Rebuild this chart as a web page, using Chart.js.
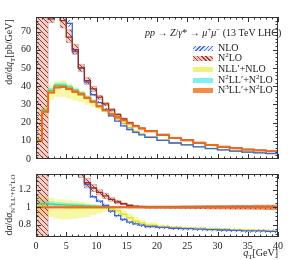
<!DOCTYPE html>
<html>
<head>
<meta charset="utf-8">
<script src="https://cdn.jsdelivr.net/npm/chart.js@4.4.1/dist/chart.umd.min.js"></script>
<style>
  body { margin: 0; background: #fff; }
  #wrap { position: relative; width: 288px; height: 260px; font-family: "Liberation Serif", serif; color: #222; overflow: hidden; }
  canvas { position: absolute; left: 0; }
  .t { position: absolute; white-space: nowrap; font-size: 10px; line-height: 1; }
  .t sub, .t sup { font-size: 70%; line-height: 0; }
  .rot { transform: translate(-50%, -50%) rotate(-90deg); }
  .sw { position: absolute; left: 193px; width: 20px; height: 5px; }
  .lab { position: absolute; left: 218px; font-size: 10px; line-height: 1; white-space: nowrap; }
  .lab sup { font-size: 70%; line-height: 0; }
</style>
</head>
<body>
<div id="wrap">
  <canvas id="topChart" width="288" height="170" style="top:0"></canvas>
  <canvas id="ratioChart" width="288" height="97" style="top:163px"></canvas>

  <div class="t" style="left:145px;top:28px;font-size:10px"><i>pp</i> → <i>Z</i>/<i>γ</i>* → <i>μ</i><sup>+</sup><i>μ</i><sup>−</sup> (13 TeV LHC)</div>

  <div class="sw" style="top:46px;background:repeating-linear-gradient(-45deg,#4a6ee0 0 1px,#dfe6fb 1px 3px)"></div>
  <div class="lab" style="top:43px">NLO</div>
  <div class="sw" style="top:56px;background:repeating-linear-gradient(45deg,#a33a2c 0 1px,#ecc3bd 1px 3px)"></div>
  <div class="lab" style="top:53px">N<sup>2</sup>LO</div>
  <div class="sw" style="top:67px;background:#f2f27a"></div>
  <div class="lab" style="top:64px">NLL′+NLO</div>
  <div class="sw" style="top:78px;background:#7df0f0"></div>
  <div class="lab" style="top:75px">N<sup>2</sup>LL′+N<sup>2</sup>LO</div>
  <div class="sw" style="top:88px;background:#f58a4a"></div>
  <div class="lab" style="top:85px">N<sup>3</sup>LL′+N<sup>2</sup>LO</div>

  <div class="t rot" style="left:9px;top:52px">d<i>σ</i>/d<i>q</i><sub>T</sub>[pb/GeV]</div>
  <div class="t rot" style="left:9px;top:205px">d<i>σ</i>/d<i>σ</i><sub>N<sup>3</sup>LL′+N<sup>2</sup>LO</sub></div>
  <div class="t" style="right:10px;top:248px"><i>q</i><sub>T</sub>[GeV]</div>
</div>

<script>
// bin edges in qT (GeV)
const edges = [0, 1, 2, 3, 4, 5, 6, 7, 8, 9, 10, 11, 12, 13, 14, 15, 16, 17, 18, 20, 22, 24, 26, 28, 30, 32, 34, 36, 38, 40];

// upper panel: dsigma/dqT per bin
const n3ll = [10, 26, 36.5, 39.3, 39.5, 38.5, 37, 35.5, 33.5, 31.5, 29, 26.8, 24.8, 23, 21.2, 19.5, 18, 16.7, 15.3, 13.3, 11.6, 10.3, 8.9, 7.7, 6.7, 5.9, 5.2, 4.7, 4.2];
const n3llLo = [9.9, 25.7, 36.1, 38.9, 39.1, 38.1, 36.6, 35.1, 33.1, 31.1, 28.6, 26.5, 24.5, 22.7, 20.9, 19.2, 17.7, 16.4, 15.0, 13.0, 11.3, 10.0, 8.65, 7.47, 6.49, 5.7, 5.02, 4.53, 4.05];
const n3llHi = [10.1, 26.3, 36.9, 39.7, 39.9, 38.9, 37.4, 35.9, 33.9, 31.9, 29.4, 27.1, 25.1, 23.3, 21.5, 19.8, 18.3, 17.0, 15.6, 13.6, 11.9, 10.6, 9.15, 7.93, 6.91, 6.1, 5.38, 4.87, 4.35];

const n2ll = [10.4, 27, 37.7, 40.5, 40.6, 39.5, 37.8, 36.2, 34, 31.9, 29.3, 27, 24.9, 23.1, 21.3, 19.6, 18.1, 16.8, 15.4, 13.4, 11.7, 10.4, 9.0, 7.8, 6.8, 6.0, 5.3, 4.8, 4.3];
const n2llLo = [10.0, 26.1, 36.6, 39.5, 39.7, 38.7, 37.2, 35.7, 33.6, 31.5, 29.0, 26.8, 24.7, 22.9, 21.1, 19.4, 17.9, 16.6, 15.2, 13.2, 11.5, 10.2, 8.85, 7.65, 6.65, 5.85, 5.15, 4.65, 4.15];
const n2llHi = [10.8, 27.8, 39.0, 41.8, 41.9, 40.6, 38.7, 36.9, 34.7, 32.4, 29.7, 27.4, 25.2, 23.4, 21.6, 19.8, 18.3, 17.0, 15.6, 13.6, 11.9, 10.6, 9.15, 7.95, 6.95, 6.1, 5.4, 4.9, 4.4];

const nll = [10.2, 26.3, 36.5, 39.3, 39.5, 38.1, 36.6, 35.1, 33.2, 31.2, 28.7, 26.5, 24.3, 22.1, 19.5, 17.2, 15.1, 13.7, 12.2, 10.4, 8.9, 7.9, 6.8, 5.8, 5.0, 4.4, 3.85, 3.45, 3.05];
const nllLo = [9.0, 23.4, 32.5, 34.2, 34.0, 33.1, 32.2, 31.2, 29.8, 28.7, 27.0, 25.5, 23.6, 21.4, 18.9, 16.4, 14.6, 13.2, 11.9, 10.2, 8.8, 7.8, 6.7, 5.7, 4.95, 4.34, 3.8, 3.41, 3.02];
const nllHi = [11.5, 29.1, 40.5, 42.8, 43.1, 41.6, 39.6, 37.6, 35.2, 32.8, 29.9, 27.6, 25.3, 22.8, 20.4, 18.1, 16.0, 14.4, 12.7, 10.6, 9.1, 8.0, 6.9, 5.9, 5.1, 4.46, 3.9, 3.5, 3.1];

const nlo = [150, 150, 150, 150, 150, 74.5, 59, 50, 42.2, 35.3, 31.0, 27.3, 23.7, 20.8, 18.2, 16.2, 14.6, 13.3, 11.9, 10.2, 8.8, 7.8, 6.7, 5.7, 5.0, 4.3, 3.8, 3.4, 3.0];
const nloLo = [140, 140, 140, 140, 140, 72.6, 57.5, 48.8, 41.1, 34.4, 30.2, 26.6, 23.1, 20.3, 17.7, 15.8, 14.2, 13.0, 11.6, 9.95, 8.6, 7.6, 6.53, 5.56, 4.88, 4.19, 3.7, 3.32, 2.93];
const nloHi = [160, 160, 160, 160, 160, 76.4, 60.5, 51.2, 43.3, 36.2, 31.8, 28.0, 24.3, 21.3, 18.7, 16.6, 15.0, 13.6, 12.2, 10.45, 9.0, 8.0, 6.87, 5.84, 5.12, 4.41, 3.9, 3.48, 3.07];

const n2lo = [300, 300, 77, 90, 76, 67, 60, 50, 43, 38.5, 34, 30.3, 27, 24.4, 22, 19.9, 18.2, 16.8, 15.3, 13.3, 11.6, 10.3, 8.9, 7.7, 6.7, 5.9, 5.2, 4.7, 4.2];
const n2loLo = [-50, -50, 75, 85, 72, 64, 57.5, 48, 41, 37, 32.8, 29.3, 26.2, 23.7, 21.4, 19.4, 17.8, 16.4, 14.95, 12.95, 11.3, 10.0, 8.65, 7.45, 6.5, 5.7, 5.02, 4.53, 4.05];
const n2loHi = [500, 500, 80, 95, 80, 71, 63, 52, 44.6, 39.8, 35, 31.1, 27.7, 25.0, 22.5, 20.3, 18.6, 17.2, 15.7, 13.65, 11.9, 10.6, 9.2, 7.95, 6.92, 6.1, 5.4, 4.88, 4.37];

// lower panel: ratio to N3LL'+N2LO
const rN3ll = [1, 1, 1, 1, 1, 1, 1, 1, 1, 1, 1, 1, 1, 1, 1, 1, 1, 1, 1, 1, 1, 1, 1, 1, 1, 1, 1, 1, 1];
const rN3llLo = [0.99, 0.99, 0.99, 0.99, 0.99, 0.99, 0.99, 0.99, 0.99, 0.99, 0.99, 0.99, 0.99, 0.99, 0.988, 0.987, 0.986, 0.985, 0.984, 0.983, 0.982, 0.981, 0.979, 0.978, 0.977, 0.975, 0.974, 0.972, 0.97];
const rN3llHi = [1.01, 1.01, 1.01, 1.01, 1.01, 1.01, 1.01, 1.01, 1.01, 1.01, 1.01, 1.01, 1.01, 1.01, 1.012, 1.013, 1.014, 1.015, 1.016, 1.017, 1.018, 1.019, 1.021, 1.022, 1.023, 1.025, 1.026, 1.028, 1.03];

const rN2ll = [1.04, 1.04, 1.035, 1.03, 1.028, 1.025, 1.022, 1.02, 1.015, 1.012, 1.01, 1.007, 1.005, 1.004, 1.003, 1.003, 1.003, 1.003, 1.003, 1.003, 1.003, 1.003, 1.003, 1.003, 1.003, 1.003, 1.003, 1.003, 1.003];
const rN2llLo = [1.0, 1.0, 1.0, 1.005, 1.005, 1.005, 1.005, 1.005, 1.003, 1.0, 1.0, 0.998, 0.996, 0.995, 0.994, 0.994, 0.994, 0.994, 0.994, 0.994, 0.994, 0.994, 0.994, 0.994, 0.994, 0.994, 0.994, 0.994, 0.994];
const rN2llHi = [1.08, 1.075, 1.07, 1.06, 1.055, 1.05, 1.045, 1.04, 1.035, 1.03, 1.025, 1.02, 1.017, 1.015, 1.013, 1.013, 1.013, 1.013, 1.013, 1.013, 1.013, 1.013, 1.013, 1.013, 1.013, 1.013, 1.013, 1.013, 1.013];

const rNll = [1.02, 1.01, 1.0, 1.0, 1.0, 0.99, 0.99, 0.99, 0.99, 0.99, 0.99, 0.99, 0.98, 0.96, 0.92, 0.88, 0.84, 0.82, 0.795, 0.78, 0.77, 0.765, 0.76, 0.755, 0.75, 0.745, 0.74, 0.735, 0.73];
const rNllLo = [0.9, 0.9, 0.89, 0.87, 0.86, 0.86, 0.87, 0.88, 0.89, 0.91, 0.93, 0.95, 0.95, 0.93, 0.89, 0.84, 0.81, 0.79, 0.78, 0.77, 0.76, 0.755, 0.75, 0.745, 0.74, 0.735, 0.73, 0.725, 0.72];
const rNllHi = [1.15, 1.12, 1.11, 1.09, 1.09, 1.08, 1.07, 1.06, 1.05, 1.04, 1.03, 1.03, 1.02, 0.99, 0.96, 0.93, 0.89, 0.86, 0.83, 0.80, 0.785, 0.775, 0.77, 0.765, 0.76, 0.755, 0.75, 0.745, 0.74];

const rNlo = [2, 2, 2, 2, 2, 2, 2, 1.41, 1.26, 1.12, 1.07, 1.02, 0.955, 0.905, 0.86, 0.83, 0.81, 0.795, 0.78, 0.77, 0.76, 0.755, 0.75, 0.745, 0.74, 0.735, 0.73, 0.73, 0.725];
const rNloLo = [1.9, 1.9, 1.9, 1.9, 1.9, 1.9, 1.9, 1.38, 1.235, 1.1, 1.05, 1.0, 0.935, 0.885, 0.84, 0.81, 0.79, 0.775, 0.76, 0.75, 0.74, 0.735, 0.73, 0.725, 0.72, 0.715, 0.71, 0.71, 0.705];
const rNloHi = [2.1, 2.1, 2.1, 2.1, 2.1, 2.1, 2.1, 1.44, 1.285, 1.14, 1.09, 1.04, 0.975, 0.925, 0.88, 0.85, 0.83, 0.815, 0.8, 0.79, 0.78, 0.775, 0.77, 0.765, 0.76, 0.755, 0.75, 0.75, 0.745];

const rN2lo = [3, 3, 2.1, 2.3, 2.1, 1.75, 1.6, 1.40, 1.28, 1.22, 1.17, 1.13, 1.09, 1.06, 1.04, 1.02, 1.01, 1.006, 1.0, 1.0, 1.0, 1.0, 1.0, 1.0, 1.0, 1.0, 1.0, 1.0, 1.0];
const rN2loLo = [-1, -1, 2.0, 2.2, 2.0, 1.65, 1.52, 1.34, 1.22, 1.18, 1.14, 1.10, 1.07, 1.04, 1.03, 1.01, 1.0, 0.995, 0.99, 0.988, 0.986, 0.985, 0.984, 0.983, 0.982, 0.981, 0.98, 0.979, 0.978];
const rN2loHi = [5, 5, 2.2, 2.4, 2.2, 1.85, 1.68, 1.46, 1.33, 1.26, 1.20, 1.16, 1.11, 1.08, 1.05, 1.03, 1.02, 1.017, 1.012, 1.013, 1.014, 1.015, 1.016, 1.017, 1.018, 1.019, 1.02, 1.021, 1.022];

const FONT = "Liberation Serif";

// make a hatch pattern for the fixed order bands
const hatch = (line, bg, dir) => {
  const c = document.createElement("canvas");
  c.width = c.height = 5;
  const g = c.getContext("2d");
  if (bg) {
    g.fillStyle = bg;
    g.fillRect(0, 0, 5, 5);
  }
  g.strokeStyle = line;
  g.lineWidth = 1;
  g.beginPath();
  if (dir > 0) {
    g.moveTo(-1, 6); g.lineTo(6, -1);
  } else {
    g.moveTo(-1, -1); g.lineTo(6, 6);
  }
  g.stroke();
  return g.createPattern(c, "repeat");
};

const blueHatch = hatch("rgba(60,95,220,0.9)", "rgba(200,215,250,0.25)", 1);
const redHatch = hatch("rgba(150,45,30,0.95)", "rgba(220,150,140,0.45)", -1);

// per-bin values -> step points (last value repeated at the right edge)
const steps = (vals) => edges.map((x, i) => ({ x, y: vals[Math.min(i, vals.length - 1)] }));

const band = (hi, lo, fill, edge, order) => [
  { data: steps(hi), stepped: true, fill: "+1", backgroundColor: fill, borderColor: edge || "transparent", borderWidth: edge ? 0.8 : 0, pointRadius: 0, order },
  { data: steps(lo), stepped: true, fill: false, borderColor: edge || "transparent", borderWidth: edge ? 0.8 : 0, pointRadius: 0, order },
];

const line = (vals, color, width, order) => ({
  data: steps(vals), stepped: true, fill: false, borderColor: color, borderWidth: width, pointRadius: 0, order,
});

// frame with inward ticks on all four sides
const frame = (yStep, yMajorEvery, yFrom, yTo) => ({
  id: "frame",
  afterDraw(chart) {
    const { ctx, chartArea: a, scales } = chart;
    const x = scales.x, y = scales.y;
    ctx.save();
    ctx.strokeStyle = "#333";
    ctx.lineWidth = 1;
    ctx.strokeRect(a.left + 0.5, a.top + 0.5, a.width - 1, a.height - 1);
    ctx.beginPath();
    for (let v = 0; v <= 40; v++) {
      const px = Math.round(x.getPixelForValue(v)) + 0.5;
      const len = v % 5 === 0 ? 5 : 2.5;
      ctx.moveTo(px, a.bottom); ctx.lineTo(px, a.bottom - len);
      ctx.moveTo(px, a.top); ctx.lineTo(px, a.top + len);
    }
    for (let k = yFrom; k <= yTo; k++) {
      const py = Math.round(y.getPixelForValue(k * yStep)) + 0.5;
      if (py < a.top || py > a.bottom) continue;
      const len = k % yMajorEvery === 0 ? 5 : 2.5;
      ctx.moveTo(a.left, py); ctx.lineTo(a.left + len, py);
      ctx.moveTo(a.right, py); ctx.lineTo(a.right - len, py);
    }
    ctx.stroke();
    ctx.restore();
  },
});

const yAxis = (min, max, stepSize, fmt) => ({
  min, max,
  grid: { display: false, drawTicks: false },
  border: { display: false },
  ticks: { stepSize, includeBounds: false, padding: 5, color: "#222", font: { family: FONT, size: 10 }, callback: fmt },
  afterFit(s) { s.width = 36; },
});

// upper panel
new Chart(document.getElementById("topChart"), {
  type: "line",
  data: {
    datasets: [
      line(n3ll, "#f06a1a", 2, 0),
      line(n2lo, "#9b2d20", 1.3, 1),
      line(nlo, "#3f63d8", 1.3, 2),
      line(n2ll, "#5cc86a", 1.3, 3),
      line(nll, "#c2c92c", 1.3, 4),
      ...band(n2loHi, n2loLo, redHatch, "rgba(200,120,110,0.6)", 10),
      ...band(nloHi, nloLo, blueHatch, null, 11),
      ...band(n3llHi, n3llLo, "rgba(246,150,90,0.6)", null, 12),
      ...band(n2llHi, n2llLo, "rgba(110,235,235,0.7)", null, 13),
      ...band(nllHi, nllLo, "rgba(242,242,110,0.6)", null, 14),
    ],
  },
  options: {
    responsive: false,
    animation: false,
    devicePixelRatio: 1,
    layout: { padding: { top: 17, right: 10, bottom: 7, left: 0 } },
    plugins: { legend: { display: false }, tooltip: { enabled: false } },
    scales: {
      x: { type: "linear", min: 0, max: 40, display: false },
      y: yAxis(0, 78, 10, (v) => `${v}`),
    },
  },
  plugins: [frame(2, 5, 0, 39)],
});

// ratio panel
new Chart(document.getElementById("ratioChart"), {
  type: "line",
  data: {
    datasets: [
      line(rN3ll, "#f06a1a", 2, 0),
      line(rN2lo, "#9b2d20", 1.3, 1),
      line(rNlo, "#3f63d8", 1.3, 2),
      line(rN2ll, "#5cc86a", 1.3, 3),
      line(rNll, "#e2e22a", 1.3, 4),
      ...band(rN2loHi, rN2loLo, redHatch, "rgba(200,120,110,0.6)", 10),
      ...band(rNloHi, rNloLo, blueHatch, null, 11),
      ...band(rN3llHi, rN3llLo, "rgba(246,130,70,0.75)", null, 12),
      ...band(rN2llHi, rN2llLo, "rgba(110,235,235,0.7)", null, 13),
      ...band(rNllHi, rNllLo, "rgba(242,242,110,0.6)", null, 14),
    ],
  },
  options: {
    responsive: false,
    animation: false,
    devicePixelRatio: 1,
    layout: { padding: { top: 0, right: 10, bottom: 0, left: 0 } },
    plugins: { legend: { display: false }, tooltip: { enabled: false } },
    scales: {
      x: {
        type: "linear", min: 0, max: 40,
        grid: { display: false, drawTicks: false },
        border: { display: false },
        ticks: { stepSize: 5, padding: 3, maxRotation: 0, autoSkip: false, color: "#222", font: { family: FONT, size: 10 } },
        afterFit(s) { s.height = 23; },
      },
      y: yAxis(0.66, 1.38, 0.2, (v) => `${+v.toFixed(1)}`),
    },
  },
  plugins: [frame(0.05, 4, 14, 27)],
});
</script>
</body>
</html>
